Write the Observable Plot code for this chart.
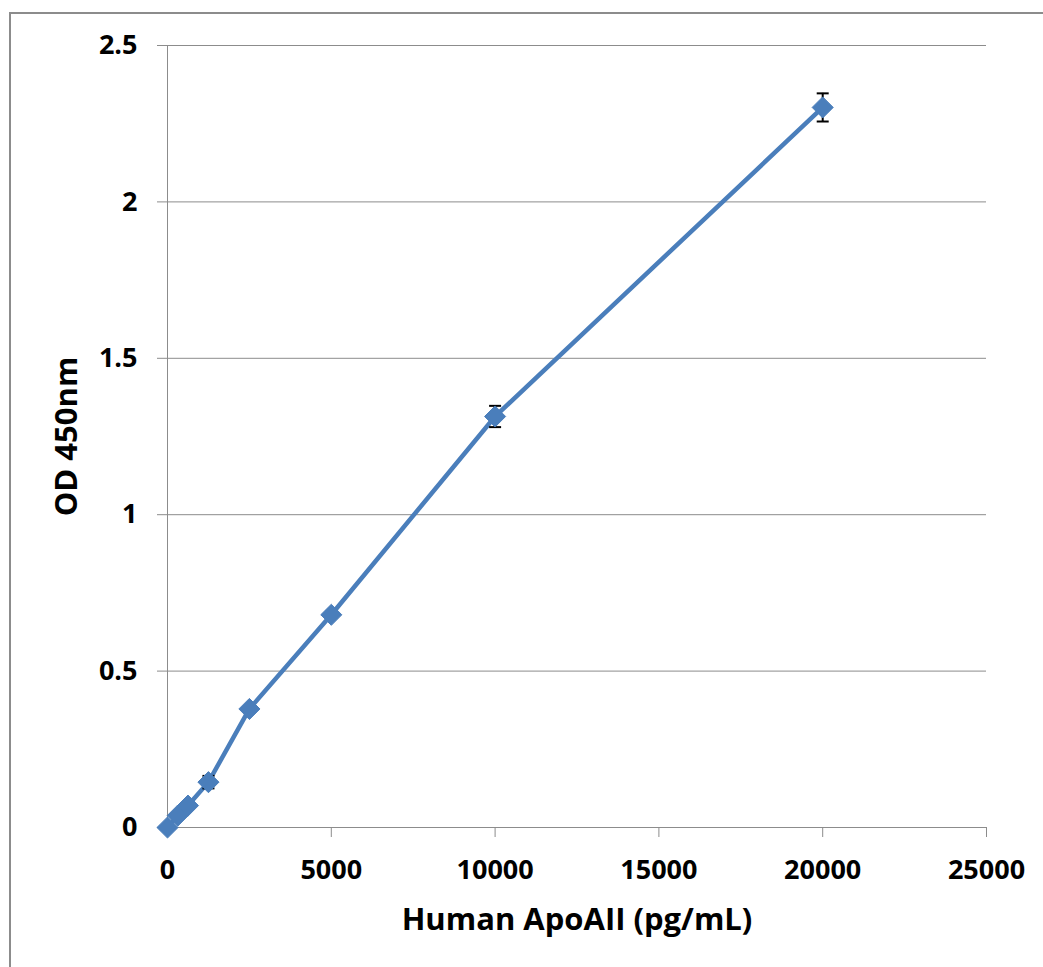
<!DOCTYPE html>
<html>
<head>
<meta charset="utf-8">
<script src="https://cdn.jsdelivr.net/npm/d3@7"></script>
<script src="https://cdn.jsdelivr.net/npm/@observablehq/plot@0.6"></script>
<style>
  html, body { margin: 0; padding: 0; background: #fff; }
  #wrap { position: relative; width: 1043px; height: 967px; overflow: hidden; }
  #border { position: absolute; left: 9px; top: 12px; width: 1100px; height: 1000px;
            border-left: 2px solid #8c8c8c; border-top: 2px solid #8c8c8c; pointer-events: none; }
</style>
</head>
<body>
<div id="wrap"><div id="border"></div></div>
<script>
// Data
const concentrations = [0, 312.5, 625, 1250, 2500, 5000, 10000, 20000];
const odValues       = [0, 0.038, 0.070, 0.145, 0.379, 0.680, 1.314, 2.302];
const odErrors       = [0, 0.005, 0.008, 0.020, 0.008, 0.010, 0.034, 0.045];
const xTicks = [0, 5000, 10000, 15000, 20000, 25000];
const yTicks = [0, 0.5, 1, 1.5, 2, 2.5];
const xTitle = "Human ApoAII (pg/mL)";
const yTitle = "OD 450nm";

const rows = concentrations.map((c, i) => ({x: c, y: odValues[i], e: odErrors[i]}));
const errRows = rows.filter(d => d.e > 0);
const caps = errRows.flatMap(d => [{x: d.x, y: d.y - d.e}, {x: d.x, y: d.y + d.e}]);

const blue = "#4a7ebb";
const gray = "#8c8c8c";
const capSymbol = {draw(ctx, size) { const r = 6; ctx.moveTo(-r, 0); ctx.lineTo(r, 0); }};

const chart = Plot.plot({
  width: 1043,
  height: 967,
  marginLeft: 167,
  marginRight: 57,
  marginTop: 45,
  marginBottom: 140,
  style: {fontFamily: "'Open Sans', sans-serif", fontSize: "27px", fontWeight: "bold", color: "#000", background: "transparent"},
  x: {domain: [0, 25000]},
  y: {domain: [0, 2.5]},
  marks: [
    Plot.gridY(yTicks, {stroke: gray, strokeOpacity: 1, strokeWidth: 1}),
    Plot.ruleX([0], {stroke: gray, strokeWidth: 1}),
    Plot.ruleY([0], {stroke: gray, strokeWidth: 1}),
    Plot.axisX(xTicks, {tickSize: 10, tickPadding: 22, stroke: gray, strokeOpacity: 1, tickFormat: d => String(d), label: null, fill: "#000"}),
    Plot.axisY(yTicks, {tickSize: 10, tickPadding: 20, stroke: gray, strokeOpacity: 1, tickFormat: d => String(d), label: null, fill: "#000"}),
    Plot.line(rows, {x: "x", y: "y", stroke: blue, strokeWidth: 4.5, strokeLinejoin: "round"}),
    Plot.ruleX(errRows, {x: "x", y1: d => d.y - d.e, y2: d => d.y + d.e, stroke: "#000", strokeWidth: 2}),
    Plot.dot(caps, {x: "x", y: "y", symbol: capSymbol, stroke: "#000", strokeWidth: 2, fill: "none", r: 3}),
    Plot.dot(rows, {x: "x", y: "y", symbol: "diamond2", r: 9.5, fill: blue, stroke: blue, strokeWidth: 1}),
    Plot.text([xTitle], {frameAnchor: "bottom", dy: 93, lineAnchor: "middle", textAnchor: "middle", fontSize: 31, fontWeight: "bold", fill: "#000"}),
    Plot.text([yTitle], {frameAnchor: "left", dx: -100, rotate: -90, lineAnchor: "middle", textAnchor: "middle", fontSize: 31, fontWeight: "bold", fill: "#000"})
  ]
});
document.getElementById("wrap").prepend(chart);
</script>
</body>
</html>
